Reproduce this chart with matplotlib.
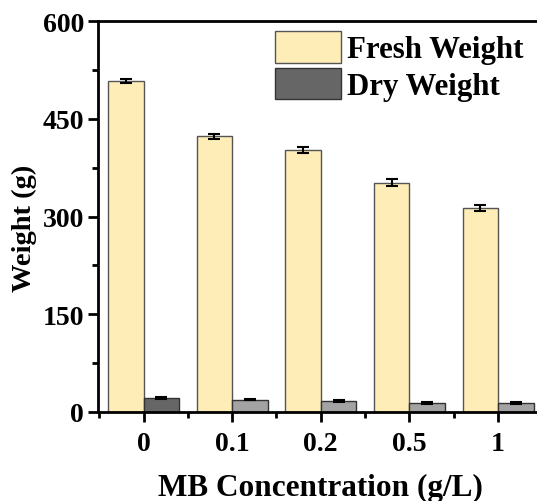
import numpy as np
import matplotlib.pyplot as plt
from matplotlib.ticker import MultipleLocator

# Data
categories = ['0', '0.1', '0.2', '0.5', '1']
fresh = [508, 423, 402, 352, 313]
fresh_err = [3, 4, 4, 5, 5]
dry = [21, 19, 17, 14, 14]
dry_err = [1.5, 1.2, 1.2, 1.0, 1.0]
dry_colors = ['#666666', '#a3a3a3', '#a3a3a3', '#a3a3a3', '#a3a3a3']

plt.rcParams['font.family'] = ['Liberation Serif', 'DejaVu Serif']
plt.rcParams['font.weight'] = 'bold'

fig = plt.figure(figsize=(5.37, 5.02), dpi=100)
ax = fig.add_axes([98/537, 89/502, 1 - 98/537 + 0.01, (413-22)/502])

x = np.arange(len(categories))
w = 0.4
ax.bar(x - w/2, fresh, w, yerr=fresh_err, color='#ffedb8', edgecolor='#555555',
       linewidth=1, label='Fresh Weight',
       error_kw=dict(ecolor='black', elinewidth=1.5, capsize=4, capthick=1.5))
ax.bar(x + w/2, dry, w, yerr=dry_err, color=dry_colors, edgecolor='#333333',
       linewidth=1, label='Dry Weight',
       error_kw=dict(ecolor='black', elinewidth=1.5, capsize=4, capthick=1.5))

ax.set_xlim(-0.514, 4.5)
ax.set_ylim(0, 600)
ax.set_xticks(x)
ax.set_xticklabels(categories)
ax.xaxis.set_minor_locator(MultipleLocator(1, offset=0.5))
ax.yaxis.set_major_locator(MultipleLocator(150))
ax.yaxis.set_minor_locator(MultipleLocator(75))

ax.spines['right'].set_visible(False)
for s in ['left', 'bottom', 'top']:
    ax.spines[s].set_linewidth(2)
ax.tick_params(which='major', direction='out', length=7, width=2, labelsize=20)
ax.tick_params(which='minor', direction='out', length=4, width=2)
ax.tick_params(axis='x', which='both', top=False)
ax.tick_params(axis='x', pad=7)
ax.tick_params(axis='y', pad=3)

ax.set_xlabel('MB Concentration (g/L)', fontsize=22.5, fontweight='bold', labelpad=12)
ax.set_ylabel('Weight (g)', fontsize=20.5, fontweight='bold')
ax.yaxis.set_label_coords(-0.137, 0.473)

leg = ax.legend(loc='upper right', bbox_to_anchor=(1.0, 1.022), frameon=False,
                fontsize=22.2, handlelength=2.14, handleheight=1.2,
                labelspacing=0.12, handletextpad=0.22, borderaxespad=0.2)
leg.legend_handles[1].set_facecolor('#666666')

fig.savefig('out.png', dpi=100)
